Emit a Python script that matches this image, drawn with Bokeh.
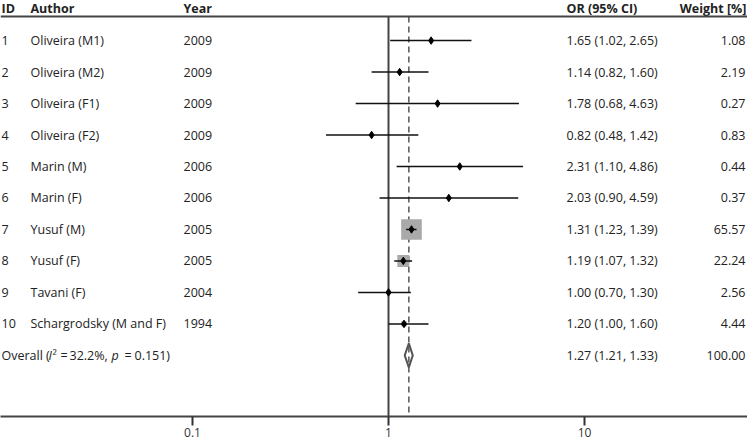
from bokeh.plotting import figure
from bokeh.models import Range1d, FixedTicker, ColumnDataSource, Span
from bokeh.core.properties import value
from bokeh.embed import file_html
from bokeh.resources import INLINE
import math

# ---------------- data ----------------
ids = ["1", "2", "3", "4", "5", "6", "7", "8", "9", "10"]
authors = ["Oliveira (M1)", "Oliveira (M2)", "Oliveira (F1)", "Oliveira (F2)",
           "Marin (M)", "Marin (F)", "Yusuf (M)", "Yusuf (F)", "Tavani (F)",
           "Schargrodsky (M and F)"]
years = ["2009", "2009", "2009", "2009", "2006", "2006", "2005", "2005", "2004", "1994"]
odds = [1.65, 1.14, 1.78, 0.82, 2.31, 2.03, 1.31, 1.19, 1.00, 1.20]
ci_low = [1.02, 0.82, 0.68, 0.48, 1.10, 0.90, 1.23, 1.07, 0.70, 1.00]
ci_high = [2.65, 1.60, 4.63, 1.42, 4.86, 4.59, 1.39, 1.32, 1.30, 1.60]
weights = [1.08, 2.19, 0.27, 0.83, 0.44, 0.37, 65.57, 22.24, 2.56, 4.44]
overall_or = 1.27
overall_low = 1.21
overall_high = 1.33
overall_weight = 100.00
headers = ["ID", "Author", "Year", "OR (95% CI)", "Weight [%]"]
x_ticks = [0.1, 1, 10]
tick_labels = ["0.1", "1", "10"]

# ---------------- layout helpers ----------------
FONT = value("Open Sans")
DEC = 196.0      # pixels per decade
ONE = 388.0      # pixel of OR = 1
W, H = 747, 439
FRAME_BOTTOM = 415


def px(x):
    """horizontal pixel -> data value on the log axis"""
    return 10 ** ((x - ONE) / DEC)


def row(ypx):
    """vertical pixel -> row coordinate"""
    return 1 + (ypx - 40.0) / 31.4


n = len(ids)
rows = list(range(1, n + 1))
overall_row = n + 1

p = figure(width=W, height=H, x_axis_type="log",
           x_range=Range1d(px(0), px(W)),
           y_range=Range1d(row(FRAME_BOTTOM), row(0)),
           y_axis_location=None,
           output_backend="svg", toolbar_location=None,
           min_border_left=0, min_border_right=0, min_border_top=0)
p.grid.visible = False
p.outline_line_color = None
p.background_fill_color = "white"

# x axis
ax = p.xaxis[0]
ax.ticker = FixedTicker(ticks=x_ticks, minor_ticks=[])
ax.major_label_overrides = {t: l for t, l in zip(x_ticks, tick_labels)}
ax.axis_line_color = "#444444"
ax.axis_line_width = 2
ax.major_tick_line_color = "#333333"
ax.major_tick_line_width = 2
ax.major_tick_out = 9
ax.major_tick_in = 0
ax.minor_tick_line_color = None
ax.major_label_text_font = "Open Sans"
ax.major_label_text_font_size = "12px"
ax.major_label_text_color = "#333333"
ax.major_label_standoff = 2

# header rule
top_rule = row(16)
p.add_layout(Span(location=top_rule, dimension="width", line_color="#444444", line_width=2))

# vertical reference lines
p.segment(x0=[1], y0=[top_rule], x1=[1], y1=[row(FRAME_BOTTOM)], line_color="#444444", line_width=2)
p.segment(x0=[overall_or], y0=[top_rule], x1=[overall_or], y1=[row(FRAME_BOTTOM)],
          line_color="#555555", line_width=1.5, line_dash="6 4")

# study data
src = ColumnDataSource(dict(
    y=rows, odds=odds, lo=ci_low, hi=ci_high,
    size=[20.6 * math.sqrt(w / weights[6]) for w in weights],
    ids=ids, authors=authors, years=years,
    ortxt=[f"{o:.2f} ({l:.2f}, {h:.2f})" for o, l, h in zip(odds, ci_low, ci_high)],
    wtxt=[f"{w:.2f}" for w in weights],
))

p.scatter(x="odds", y="y", size="size", marker="square", source=src,
          fill_color="#a9a9a9", line_color=None)
p.segment(x0="lo", y0="y", x1="hi", y1="y", source=src, line_color="#111111", line_width=1.5)
p.scatter(x="odds", y="y", size=7.5, marker="diamond", source=src,
          fill_color="#000000", line_color="#000000")

# overall diamond
h = 0.38
p.patch(x=[overall_low, overall_or, overall_high, overall_or],
        y=[overall_row, overall_row - h, overall_row, overall_row + h],
        fill_color=None, line_color="#555555", line_width=2)

TXT = dict(text_font=FONT, text_font_size="12.5px", text_color="#222222", text_baseline="middle")

# header texts
hy = row(8)
hx = [px(1), px(30), px(183), px(566)]
p.text(x=hx, y=[hy] * 4, text=headers[:4], text_align="left", text_font_style="bold", **TXT)
p.text(x=[px(746)], y=[hy], text=[headers[4]], text_align="right", text_font_style="bold", **TXT)

# table columns
p.text(x=px(1), y="y", text="ids", source=src, text_align="left", **TXT)
p.text(x=px(30), y="y", text="authors", source=src, text_align="left", **TXT)
p.text(x=px(183), y="y", text="years", source=src, text_align="left", **TXT)
p.text(x=px(566), y="y", text="ortxt", source=src, text_align="left", **TXT)
p.text(x=px(745), y="y", text="wtxt", source=src, text_align="right", **TXT)

# overall row texts
oy = overall_row
p.text(x=[px(1), px(52), px(60), px(69), px(124), px(134)], y=[oy] * 6,
       text=["Overall (", "\u00b2", "=", "32.2%,", "=", "0.151)"], text_align="left", **TXT)
p.text(x=[px(48), px(111)], y=[oy] * 2, text=["I", "p"], text_align="left",
       text_font_style="italic", **TXT)
p.text(x=[px(566)], y=[oy],
       text=[f"{overall_or:.2f} ({overall_low:.2f}, {overall_high:.2f})"], text_align="left", **TXT)
p.text(x=[px(745)], y=[oy], text=[f"{overall_weight:.2f}"], text_align="right", **TXT)

open("out.html", "w").write(file_html(p, INLINE))
